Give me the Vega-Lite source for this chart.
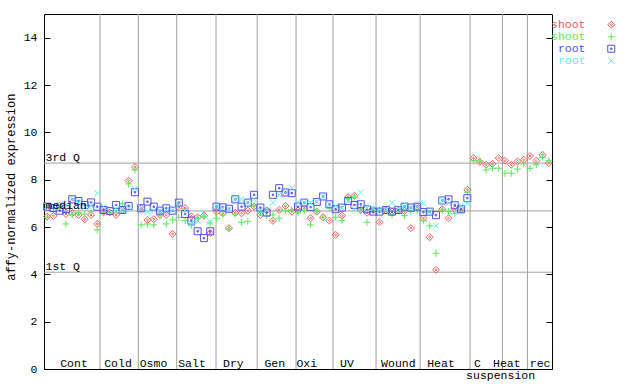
{
"$schema": "https://vega.github.io/schema/vega-lite/v6.json",
"width": 508, "height": 355,
"autosize": {"type": "none"},
"padding": {"left": 44, "top": 14, "right": 88, "bottom": 15},
"background": "white",
"config": {"view": {"stroke": "black", "strokeWidth": 1}, "font": "Liberation Mono"},
"resolve": {"axis": {"y": "independent"}},
"layer": [
{"data": {"values": [{"b":8.93},{"b":15.04},{"b":21.16},{"b":27.43},{"b":34.0},{"b":40.19},{"b":46.09},{"b":52.95},{"b":59.97},{"b":67.94},{"b":73.1},{"b":77.08}]},
 "mark": {"type": "rule", "color": "#a0a0a0", "strokeWidth": 1},
 "encoding": {"x": {"field": "b", "type": "quantitative", "scale": {"domain": [0, 81], "nice": false, "zero": false}, "axis": null}}},
{"data": {"values": [{"q":8.7},{"q":6.68},{"q":4.09}]},
 "mark": {"type": "rule", "color": "#a0a0a0", "strokeWidth": 1},
 "encoding": {"y": {"field": "q", "type": "quantitative", "scale": {"domain": [0, 15], "nice": false, "zero": true},
   "axis": {"orient": "right", "values": [0,2,4,6,8,10,12,14], "labels": false, "tickSize": -6, "tickColor": "black", "domain": false, "grid": false, "title": null}}}},
{"data": {"values": [
{"x":0.5,"s":"shoot_1","v":6.44},{"x":1.5,"s":"shoot_1","v":6.47},{"x":2.5,"s":"shoot_1","v":6.89},{"x":3.5,"s":"shoot_1","v":6.55},{"x":4.5,"s":"shoot_1","v":6.58},{"x":5.5,"s":"shoot_1","v":6.51},{"x":6.5,"s":"shoot_1","v":6.33},{"x":7.5,"s":"shoot_1","v":6.51},{"x":8.5,"s":"shoot_1","v":6.13},
{"x":9.5,"s":"shoot_1","v":6.65},{"x":10.5,"s":"shoot_1","v":6.62},{"x":11.5,"s":"shoot_1","v":6.51},{"x":12.5,"s":"shoot_1","v":6.72},{"x":13.5,"s":"shoot_1","v":7.96},{"x":14.5,"s":"shoot_1","v":8.53},
{"x":15.5,"s":"shoot_1","v":6.79},{"x":16.5,"s":"shoot_1","v":6.3},{"x":17.5,"s":"shoot_1","v":6.33},{"x":18.5,"s":"shoot_1","v":6.51},{"x":19.5,"s":"shoot_1","v":6.51},{"x":20.5,"s":"shoot_1","v":5.71},
{"x":21.5,"s":"shoot_1","v":6.84},{"x":22.5,"s":"shoot_1","v":6.8},{"x":23.5,"s":"shoot_1","v":6.45},{"x":24.5,"s":"shoot_1","v":6.41},{"x":25.5,"s":"shoot_1","v":6.48},{"x":26.5,"s":"shoot_1","v":5.74},
{"x":27.5,"s":"shoot_1","v":6.65},{"x":28.5,"s":"shoot_1","v":6.58},{"x":29.5,"s":"shoot_1","v":5.95},{"x":30.5,"s":"shoot_1","v":6.6},{"x":31.5,"s":"shoot_1","v":6.58},{"x":32.5,"s":"shoot_1","v":6.69},{"x":33.5,"s":"shoot_1","v":6.86},
{"x":34.5,"s":"shoot_1","v":6.51},{"x":35.5,"s":"shoot_1","v":6.7},{"x":36.5,"s":"shoot_1","v":6.26},{"x":37.5,"s":"shoot_1","v":6.72},{"x":38.5,"s":"shoot_1","v":6.89},{"x":39.5,"s":"shoot_1","v":6.65},
{"x":40.5,"s":"shoot_1","v":6.7},{"x":41.5,"s":"shoot_1","v":6.79},{"x":42.5,"s":"shoot_1","v":6.37},{"x":43.5,"s":"shoot_1","v":6.65},{"x":44.5,"s":"shoot_1","v":6.41},{"x":45.5,"s":"shoot_1","v":6.27},
{"x":46.5,"s":"shoot_1","v":5.67},{"x":47.5,"s":"shoot_1","v":6.48},{"x":48.5,"s":"shoot_1","v":7.26},{"x":49.5,"s":"shoot_1","v":7.32},{"x":50.5,"s":"shoot_1","v":6.72},{"x":51.5,"s":"shoot_1","v":6.6},{"x":52.5,"s":"shoot_1","v":6.72},
{"x":53.5,"s":"shoot_1","v":6.2},{"x":54.5,"s":"shoot_1","v":6.7},{"x":55.5,"s":"shoot_1","v":6.65},{"x":56.5,"s":"shoot_1","v":6.7},{"x":57.5,"s":"shoot_1","v":6.68},{"x":58.5,"s":"shoot_1","v":5.95},{"x":59.5,"s":"shoot_1","v":6.86},
{"x":60.5,"s":"shoot_1","v":6.37},{"x":61.5,"s":"shoot_1","v":5.57},{"x":62.5,"s":"shoot_1","v":4.19},{"x":63.5,"s":"shoot_1","v":6.75},{"x":64.5,"s":"shoot_1","v":6.37},{"x":65.5,"s":"shoot_1","v":6.75},{"x":66.5,"s":"shoot_1","v":6.75},{"x":67.5,"s":"shoot_1","v":7.57},
{"x":68.5,"s":"shoot_1","v":8.91},{"x":69.5,"s":"shoot_1","v":8.75},{"x":70.5,"s":"shoot_1","v":8.63},{"x":71.5,"s":"shoot_1","v":8.67},{"x":72.5,"s":"shoot_1","v":8.91},{"x":73.5,"s":"shoot_1","v":8.8},{"x":74.5,"s":"shoot_1","v":8.63},{"x":75.5,"s":"shoot_1","v":8.77},{"x":76.5,"s":"shoot_1","v":8.84},{"x":77.5,"s":"shoot_1","v":9.0},{"x":78.5,"s":"shoot_1","v":8.8},{"x":79.5,"s":"shoot_1","v":9.05},{"x":80.5,"s":"shoot_1","v":8.7},
{"x":0.5,"s":"shoot_2","v":6.41},{"x":1.5,"s":"shoot_2","v":6.79},{"x":2.5,"s":"shoot_2","v":6.8},{"x":3.5,"s":"shoot_2","v":6.13},{"x":4.5,"s":"shoot_2","v":6.51},{"x":5.5,"s":"shoot_2","v":6.6},{"x":6.5,"s":"shoot_2","v":6.55},{"x":7.5,"s":"shoot_2","v":6.65},{"x":8.5,"s":"shoot_2","v":5.88},
{"x":9.5,"s":"shoot_2","v":6.6},{"x":10.5,"s":"shoot_2","v":6.6},{"x":11.5,"s":"shoot_2","v":6.69},{"x":12.5,"s":"shoot_2","v":6.98},{"x":13.5,"s":"shoot_2","v":7.82},{"x":14.5,"s":"shoot_2","v":8.41},
{"x":15.5,"s":"shoot_2","v":6.09},{"x":16.5,"s":"shoot_2","v":6.13},{"x":17.5,"s":"shoot_2","v":6.09},{"x":18.5,"s":"shoot_2","v":6.48},{"x":19.5,"s":"shoot_2","v":6.13},{"x":20.5,"s":"shoot_2","v":6.3},
{"x":21.5,"s":"shoot_2","v":6.41},{"x":22.5,"s":"shoot_2","v":6.27},{"x":23.5,"s":"shoot_2","v":6.06},{"x":24.5,"s":"shoot_2","v":6.35},{"x":25.5,"s":"shoot_2","v":6.45},{"x":26.5,"s":"shoot_2","v":6.17},
{"x":27.5,"s":"shoot_2","v":6.37},{"x":28.5,"s":"shoot_2","v":6.51},{"x":29.5,"s":"shoot_2","v":5.92},{"x":30.5,"s":"shoot_2","v":6.55},{"x":31.5,"s":"shoot_2","v":6.2},{"x":32.5,"s":"shoot_2","v":6.24},{"x":33.5,"s":"shoot_2","v":6.89},
{"x":34.5,"s":"shoot_2","v":6.65},{"x":35.5,"s":"shoot_2","v":6.48},{"x":36.5,"s":"shoot_2","v":6.51},{"x":37.5,"s":"shoot_2","v":6.37},{"x":38.5,"s":"shoot_2","v":6.7},{"x":39.5,"s":"shoot_2","v":6.72},
{"x":40.5,"s":"shoot_2","v":6.6},{"x":41.5,"s":"shoot_2","v":6.7},{"x":42.5,"s":"shoot_2","v":6.09},{"x":43.5,"s":"shoot_2","v":6.68},{"x":44.5,"s":"shoot_2","v":6.41},{"x":45.5,"s":"shoot_2","v":6.8},
{"x":46.5,"s":"shoot_2","v":6.41},{"x":47.5,"s":"shoot_2","v":6.27},{"x":48.5,"s":"shoot_2","v":7.2},{"x":49.5,"s":"shoot_2","v":7.26},{"x":50.5,"s":"shoot_2","v":6.75},{"x":51.5,"s":"shoot_2","v":6.2},{"x":52.5,"s":"shoot_2","v":6.7},
{"x":53.5,"s":"shoot_2","v":6.72},{"x":54.5,"s":"shoot_2","v":6.68},{"x":55.5,"s":"shoot_2","v":6.51},{"x":56.5,"s":"shoot_2","v":6.68},{"x":57.5,"s":"shoot_2","v":6.48},{"x":58.5,"s":"shoot_2","v":6.65},{"x":59.5,"s":"shoot_2","v":6.7},
{"x":60.5,"s":"shoot_2","v":6.26},{"x":61.5,"s":"shoot_2","v":6.05},{"x":62.5,"s":"shoot_2","v":4.89},{"x":63.5,"s":"shoot_2","v":6.72},{"x":64.5,"s":"shoot_2","v":6.65},{"x":65.5,"s":"shoot_2","v":6.58},{"x":66.5,"s":"shoot_2","v":6.72},{"x":67.5,"s":"shoot_2","v":7.47},
{"x":68.5,"s":"shoot_2","v":8.8},{"x":69.5,"s":"shoot_2","v":8.79},{"x":70.5,"s":"shoot_2","v":8.41},{"x":71.5,"s":"shoot_2","v":8.48},{"x":72.5,"s":"shoot_2","v":8.48},{"x":73.5,"s":"shoot_2","v":8.27},{"x":74.5,"s":"shoot_2","v":8.27},{"x":75.5,"s":"shoot_2","v":8.45},{"x":76.5,"s":"shoot_2","v":8.67},{"x":77.5,"s":"shoot_2","v":8.48},{"x":78.5,"s":"shoot_2","v":8.63},{"x":79.5,"s":"shoot_2","v":8.95},{"x":80.5,"s":"shoot_2","v":8.8},
{"x":0.5,"s":"root_1","v":6.86},{"x":1.5,"s":"root_1","v":6.8},{"x":2.5,"s":"root_1","v":6.69},{"x":3.5,"s":"root_1","v":6.76},{"x":4.5,"s":"root_1","v":7.17},{"x":5.5,"s":"root_1","v":7.1},{"x":6.5,"s":"root_1","v":6.93},{"x":7.5,"s":"root_1","v":7.04},{"x":8.5,"s":"root_1","v":6.86},
{"x":9.5,"s":"root_1","v":6.72},{"x":10.5,"s":"root_1","v":6.68},{"x":11.5,"s":"root_1","v":6.93},{"x":12.5,"s":"root_1","v":6.72},{"x":13.5,"s":"root_1","v":6.89},{"x":14.5,"s":"root_1","v":7.47},
{"x":15.5,"s":"root_1","v":6.79},{"x":16.5,"s":"root_1","v":7.07},{"x":17.5,"s":"root_1","v":6.86},{"x":18.5,"s":"root_1","v":6.69},{"x":19.5,"s":"root_1","v":6.79},{"x":20.5,"s":"root_1","v":6.69},
{"x":21.5,"s":"root_1","v":7.03},{"x":22.5,"s":"root_1","v":6.55},{"x":23.5,"s":"root_1","v":6.27},{"x":24.5,"s":"root_1","v":5.82},{"x":25.5,"s":"root_1","v":5.53},{"x":26.5,"s":"root_1","v":5.82},
{"x":27.5,"s":"root_1","v":6.86},{"x":28.5,"s":"root_1","v":6.83},{"x":29.5,"s":"root_1","v":6.77},{"x":30.5,"s":"root_1","v":7.17},{"x":31.5,"s":"root_1","v":6.86},{"x":32.5,"s":"root_1","v":7.03},{"x":33.5,"s":"root_1","v":7.36},
{"x":34.5,"s":"root_1","v":6.82},{"x":35.5,"s":"root_1","v":6.61},{"x":36.5,"s":"root_1","v":7.36},{"x":37.5,"s":"root_1","v":7.64},{"x":38.5,"s":"root_1","v":7.46},{"x":39.5,"s":"root_1","v":7.43},
{"x":40.5,"s":"root_1","v":6.86},{"x":41.5,"s":"root_1","v":7.03},{"x":42.5,"s":"root_1","v":6.84},{"x":43.5,"s":"root_1","v":7.06},{"x":44.5,"s":"root_1","v":7.29},{"x":45.5,"s":"root_1","v":6.96},
{"x":46.5,"s":"root_1","v":6.75},{"x":47.5,"s":"root_1","v":6.82},{"x":48.5,"s":"root_1","v":7.1},{"x":49.5,"s":"root_1","v":6.93},{"x":50.5,"s":"root_1","v":6.96},{"x":51.5,"s":"root_1","v":6.75},{"x":52.5,"s":"root_1","v":6.65},
{"x":53.5,"s":"root_1","v":6.65},{"x":54.5,"s":"root_1","v":6.72},{"x":55.5,"s":"root_1","v":6.65},{"x":56.5,"s":"root_1","v":6.72},{"x":57.5,"s":"root_1","v":6.86},{"x":58.5,"s":"root_1","v":6.82},{"x":59.5,"s":"root_1","v":6.86},
{"x":60.5,"s":"root_1","v":6.63},{"x":61.5,"s":"root_1","v":6.65},{"x":62.5,"s":"root_1","v":6.5},{"x":63.5,"s":"root_1","v":7.12},{"x":64.5,"s":"root_1","v":7.17},{"x":65.5,"s":"root_1","v":6.92},{"x":66.5,"s":"root_1","v":6.75},{"x":67.5,"s":"root_1","v":7.22},
{"x":0.5,"s":"root_2","v":6.88},{"x":1.5,"s":"root_2","v":6.86},{"x":2.5,"s":"root_2","v":6.93},{"x":3.5,"s":"root_2","v":6.93},{"x":4.5,"s":"root_2","v":7.17},{"x":5.5,"s":"root_2","v":7.03},{"x":6.5,"s":"root_2","v":6.85},{"x":7.5,"s":"root_2","v":6.9},{"x":8.5,"s":"root_2","v":7.43},
{"x":9.5,"s":"root_2","v":6.86},{"x":10.5,"s":"root_2","v":6.7},{"x":11.5,"s":"root_2","v":6.75},{"x":12.5,"s":"root_2","v":6.72},{"x":13.5,"s":"root_2","v":6.8},{"x":14.5,"s":"root_2","v":7.61},
{"x":15.5,"s":"root_2","v":6.8},{"x":16.5,"s":"root_2","v":6.65},{"x":17.5,"s":"root_2","v":6.7},{"x":18.5,"s":"root_2","v":6.7},{"x":19.5,"s":"root_2","v":6.72},{"x":20.5,"s":"root_2","v":6.72},
{"x":21.5,"s":"root_2","v":6.95},{"x":22.5,"s":"root_2","v":6.72},{"x":23.5,"s":"root_2","v":6.14},{"x":24.5,"s":"root_2","v":6.27},{"x":25.5,"s":"root_2","v":6.55},{"x":26.5,"s":"root_2","v":6.2},
{"x":27.5,"s":"root_2","v":6.86},{"x":28.5,"s":"root_2","v":6.8},{"x":29.5,"s":"root_2","v":6.75},{"x":30.5,"s":"root_2","v":7.17},{"x":31.5,"s":"root_2","v":7.17},{"x":32.5,"s":"root_2","v":7.03},{"x":33.5,"s":"root_2","v":7.17},
{"x":34.5,"s":"root_2","v":6.72},{"x":35.5,"s":"root_2","v":6.72},{"x":36.5,"s":"root_2","v":7.03},{"x":37.5,"s":"root_2","v":7.36},{"x":38.5,"s":"root_2","v":7.46},{"x":39.5,"s":"root_2","v":7.64},
{"x":40.5,"s":"root_2","v":7.03},{"x":41.5,"s":"root_2","v":7.03},{"x":42.5,"s":"root_2","v":7.03},{"x":43.5,"s":"root_2","v":7.06},{"x":44.5,"s":"root_2","v":7.29},{"x":45.5,"s":"root_2","v":6.96},
{"x":46.5,"s":"root_2","v":6.89},{"x":47.5,"s":"root_2","v":6.8},{"x":48.5,"s":"root_2","v":7.1},{"x":49.5,"s":"root_2","v":6.75},{"x":50.5,"s":"root_2","v":7.46},{"x":51.5,"s":"root_2","v":6.8},{"x":52.5,"s":"root_2","v":6.8},
{"x":53.5,"s":"root_2","v":6.72},{"x":54.5,"s":"root_2","v":6.72},{"x":55.5,"s":"root_2","v":7.03},{"x":56.5,"s":"root_2","v":6.8},{"x":57.5,"s":"root_2","v":6.86},{"x":58.5,"s":"root_2","v":6.82},{"x":59.5,"s":"root_2","v":6.86},
{"x":60.5,"s":"root_2","v":7.0},{"x":61.5,"s":"root_2","v":6.65},{"x":62.5,"s":"root_2","v":6.05},{"x":63.5,"s":"root_2","v":7.12},{"x":64.5,"s":"root_2","v":7.0},{"x":65.5,"s":"root_2","v":6.65},{"x":66.5,"s":"root_2","v":6.9},{"x":67.5,"s":"root_2","v":7.0}
]},
 "mark": {"type": "point", "filled": false, "strokeWidth": 1, "size": 49, "opacity": 1},
 "encoding": {
  "x": {"field": "x", "type": "quantitative", "axis": null},
  "y": {"field": "v", "type": "quantitative",
   "axis": {"orient": "left", "values": [0,2,4,6,8,10,12,14], "tickSize": -6, "tickColor": "black", "labelPadding": 13, "domain": false, "grid": false,
    "labelFont": "Liberation Mono", "labelFontSize": 11.5, "labelColor": "black",
    "title": "affy-normalized expression", "titleFont": "Liberation Mono", "titleFontSize": 12, "titleFontWeight": "normal", "titleColor": "black",
    "titleX": -33.5, "titleY": 172.7, "titleAngle": -90, "titleAlign": "center", "titleBaseline": "middle"}},
  "color": {"field": "s", "type": "nominal",
   "scale": {"domain": ["shoot_1","shoot_2","root_1","root_2"], "range": ["#f25a5a","#55ee55","#5050ee","#5af0f0"]},
   "legend": {"title": null, "orient": "none", "legendX": 561.5, "legendY": 5, "padding": 0, "labelOffset": -31.5, "labelAlign": "right",
    "labelFont": "Liberation Mono", "labelFontSize": 11.5, "symbolStrokeWidth": 1, "symbolSize": 49, "rowPadding": -4,
    "labelExpr": "split(datum.label, '_')[0]",
    "labelColor": {"expr": "datum.value == 'shoot_1' ? '#f25a5a' : datum.value == 'shoot_2' ? '#55ee55' : datum.value == 'root_1' ? '#5050ee' : '#5af0f0'"}}},
  "shape": {"field": "s", "type": "nominal",
   "scale": {"domain": ["shoot_1","shoot_2","root_1","root_2"], "range": ["M0,-1L1,0L0,1L-1,0Z M-0.3,0L0,-0.3L0.3,0L0,0.3Z", "M-1,0L1,0M0,-1L0,1", "M-1,-1L1,-1L1,1L-1,1Z M-0.2,-0.2L0.2,-0.2L0.2,0.2L-0.2,0.2Z", "M-0.85,-0.85L0.85,0.85M-0.85,0.85L0.85,-0.85"]},
   "legend": {"title": null, "orient": "none", "legendX": 561.5, "legendY": 5, "padding": 0, "labelOffset": -31.5, "labelAlign": "right",
    "labelFont": "Liberation Mono", "labelFontSize": 11.5, "symbolStrokeWidth": 1, "symbolSize": 49, "rowPadding": -4,
    "labelExpr": "split(datum.label, '_')[0]",
    "labelColor": {"expr": "datum.value == 'shoot_1' ? '#f25a5a' : datum.value == 'shoot_2' ? '#55ee55' : datum.value == 'root_1' ? '#5050ee' : '#5af0f0'"}}}
 }},
{"data": {"values": [{"t":"3rd Q","q":8.7,"x":0},{"t":"median","q":6.68,"x":0},{"t":"1st Q","q":4.09,"x":0}]},
 "mark": {"type": "text", "font": "Liberation Mono", "fontSize": 11.5, "color": "black", "align": "left", "baseline": "alphabetic", "dx": 1.5, "dy": -2},
 "encoding": {"x": {"field": "x", "type": "quantitative", "axis": null}, "y": {"field": "q", "type": "quantitative", "axis": null}, "text": {"field": "t"}}},
{"data": {"values": [{"t":"Cont","x":4.78},{"t":"Cold","x":11.8},{"t":"Osmo","x":17.46},{"t":"Salt","x":23.6},{"t":"Dry","x":30.2},{"t":"Gen","x":36.8},{"t":"Oxi","x":41.9},{"t":"UV","x":48.3},{"t":"Wound","x":56.5},{"t":"Heat","x":63.3},{"t":"C","x":69.1},{"t":"Heat","x":73.8},{"t":"rec","x":79.1}]},
 "mark": {"type": "text", "font": "Liberation Mono", "fontSize": 11.5, "color": "black", "align": "center", "baseline": "alphabetic", "dy": -2.5},
 "encoding": {"x": {"field": "x", "type": "quantitative", "axis": null}, "y": {"datum": 0, "type": "quantitative", "axis": null}, "text": {"field": "t"}}},
{"data": {"values": [{"t":"suspension","x":72.8}]},
 "mark": {"type": "text", "font": "Liberation Mono", "fontSize": 11.5, "color": "black", "align": "center", "baseline": "alphabetic", "dy": 10},
 "encoding": {"x": {"field": "x", "type": "quantitative", "axis": null}, "y": {"datum": 0, "type": "quantitative", "axis": null}, "text": {"field": "t"}}}
]
}
